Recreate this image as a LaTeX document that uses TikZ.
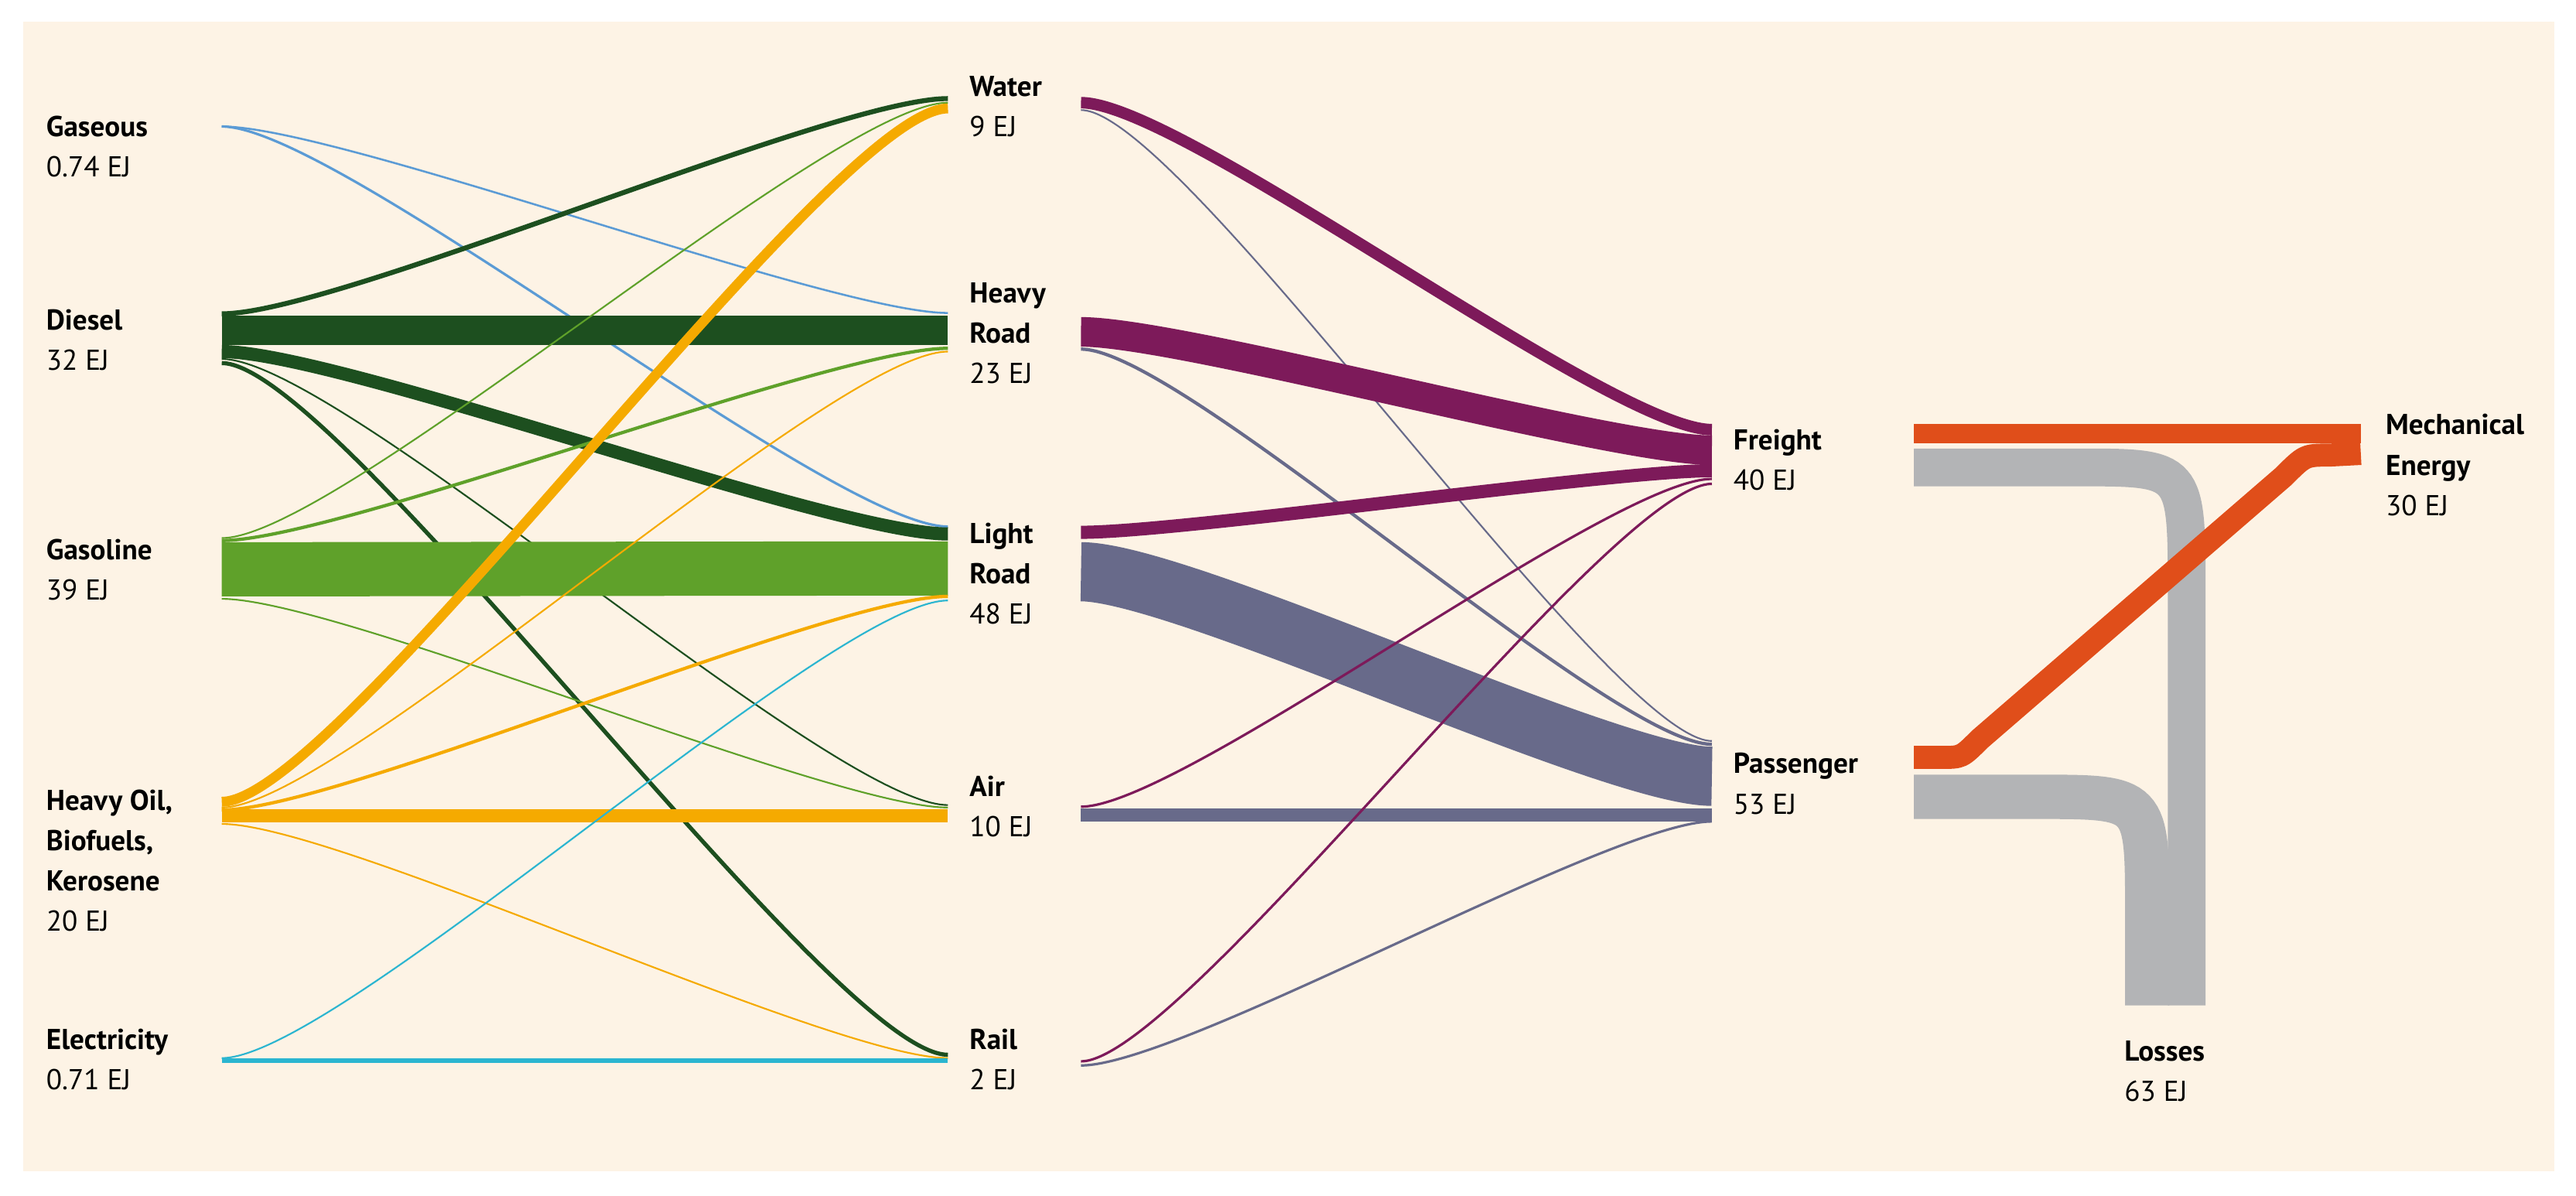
\documentclass[tikz,border=0pt]{standalone}
\usepackage{fontspec}
\setmainfont{PT Sans}
\begin{document}
\definecolor{bg}{HTML}{FDF3E5}
\definecolor{gas}{HTML}{5B9BD5}
\definecolor{dsl}{HTML}{1D4F1F}
\definecolor{gsl}{HTML}{5FA12A}
\definecolor{hoil}{HTML}{F5AA00}
\definecolor{elec}{HTML}{2BB5D0}
\definecolor{frt}{HTML}{7D1A5A}
\definecolor{psg}{HTML}{686A8A}
\definecolor{mech}{HTML}{E04E1A}
\definecolor{loss}{HTML}{B3B4B6}
\newcommand\fl[7]{%
  \coordinate (#7a) at (#3,#4); \coordinate (#7b) at (#5,#6);
  \draw[flow, line width=#2pt, draw=#1] (#7a) .. controls ({#3+0.16*(#5-#3)},#4) and ({#5-0.16*(#5-#3)},#6) .. (#7b);}
\begin{tikzpicture}[x=1pt,y=-1pt,
  flow/.style={line cap=butt},
  lab/.style={anchor=west, align=left, font=\fontsize{17.5}{24.5}\selectfont, inner sep=0pt}]
\useasboundingbox (0,0) rectangle (1568,727.6);
\fill[bg] (14,13) rectangle (1555,713);
% left -> middle
\def\xa{135}\def\xb{577}
\fl{gas}{1.2}{\xa}{77}{\xb}{190.5}{g1}
\fl{gas}{1.5}{\xa}{77}{\xb}{320.5}{g2}
\fl{dsl}{3}{\xa}{191}{\xb}{60}{d1}
\fl{dsl}{18}{\xa}{201}{\xb}{201}{d2}
\fl{dsl}{8}{\xa}{214}{\xb}{325}{d3}
\fl{dsl}{1}{\xa}{218.5}{\xb}{490}{d4}
\fl{dsl}{2.5}{\xa}{221}{\xb}{642}{d5}
\fl{gsl}{1}{\xa}{327.5}{\xb}{62.5}{s1}
\fl{gsl}{2}{\xa}{329}{\xb}{212}{s2}
\fl{gsl}{33}{\xa}{346.5}{\xb}{346}{s3}
\fl{gsl}{1}{\xa}{364.5}{\xb}{491.5}{s4}
\fl{hoil}{6}{\xa}{488}{\xb}{66}{h1}
\fl{hoil}{1}{\xa}{491.5}{\xb}{214}{h2}
\fl{hoil}{2}{\xa}{493}{\xb}{363}{h3}
\fl{hoil}{8}{\xa}{496.5}{\xb}{496.5}{h4}
\fl{hoil}{1}{\xa}{501.5}{\xb}{644}{h5}
\fl{elec}{1}{\xa}{644}{\xb}{365.5}{e1}
\fl{elec}{2.5}{\xa}{645.5}{\xb}{645.5}{e2}
% middle -> freight/passenger
\def\xc{658}\def\xd{1042}
\fl{frt}{7}{\xc}{62.5}{\xd}{261.5}{f1}
\fl{psg}{1}{\xc}{67}{\xd}{451}{p1}
\fl{frt}{18}{\xc}{202}{\xd}{274}{f2}
\fl{psg}{2}{\xc}{212.5}{\xd}{453}{p2}
\fl{frt}{8}{\xc}{324}{\xd}{286.5}{f3}
\fl{psg}{36}{\xc}{348}{\xd}{472.5}{p3}
\fl{frt}{1.5}{\xc}{491}{\xd}{291.5}{f4}
\fl{psg}{8}{\xc}{496}{\xd}{496}{p4}
\fl{frt}{1.5}{\xc}{646}{\xd}{294.5}{f5}
\fl{psg}{1.5}{\xc}{648.5}{\xd}{500}{p5}
% right part
\coordinate (fa) at (1165,284.5); \coordinate (fb) at (1331,612);
\draw[loss, line width=23pt] (fa) -- (1265,284.5) .. controls (1331,284.5) .. (1331,360) -- (fb);
\coordinate (ma) at (1165,264); \coordinate (mb) at (1437,264);
\draw[mech, line width=12pt] (ma) -- (mb);
\coordinate (pa) at (1165,461); \coordinate (pb) at (1437,276);
\draw[mech, line width=14pt] (pa) -- (1182,461) .. controls (1194,461) .. (1205,450) -- (1390,290) .. controls (1403,277) .. (1418,277) -- (pb);
\coordinate (qa) at (1165,485); \coordinate (qb) at (1307,612);
\draw[loss, line width=27pt] (qa) -- (1240,485) .. controls (1307,485) .. (1307,555) -- (qb);
% labels
\node[lab] (Lgas) at (28,89) {\textbf{Gaseous}\\0.74 EJ};
\node[lab] (Ldsl) at (28,207) {\textbf{Diesel}\\32 EJ};
\node[lab] (Lgsl) at (28,347) {\textbf{Gasoline}\\39 EJ};
\node[lab] (Lhoil) at (28,524) {\textbf{Heavy Oil,}\\\textbf{Biofuels,}\\\textbf{Kerosene}\\20 EJ};
\node[lab] (Lel) at (28,645) {\textbf{Electricity}\\0.71 EJ};
\node[lab] (Lw) at (590,65) {\textbf{Water}\\9 EJ};
\node[lab] (Lhr) at (590,203) {\textbf{Heavy}\\\textbf{Road}\\23 EJ};
\node[lab] (Llr) at (590,349) {\textbf{Light}\\\textbf{Road}\\48 EJ};
\node[lab] (La) at (590,491) {\textbf{Air}\\10 EJ};
\node[lab] (Lr) at (590,645) {\textbf{Rail}\\2 EJ};
\node[lab] (Lf) at (1055,280) {\textbf{Freight}\\40 EJ};
\node[lab] (Lp) at (1055,477) {\textbf{Passenger}\\53 EJ};
\node[lab] (Lm) at (1452,283) {\textbf{Mechanical}\\\textbf{Energy}\\30 EJ};
\node[lab] (Ll) at (1293,652) {\textbf{Losses}\\63 EJ};
\end{tikzpicture}
\end{document}
